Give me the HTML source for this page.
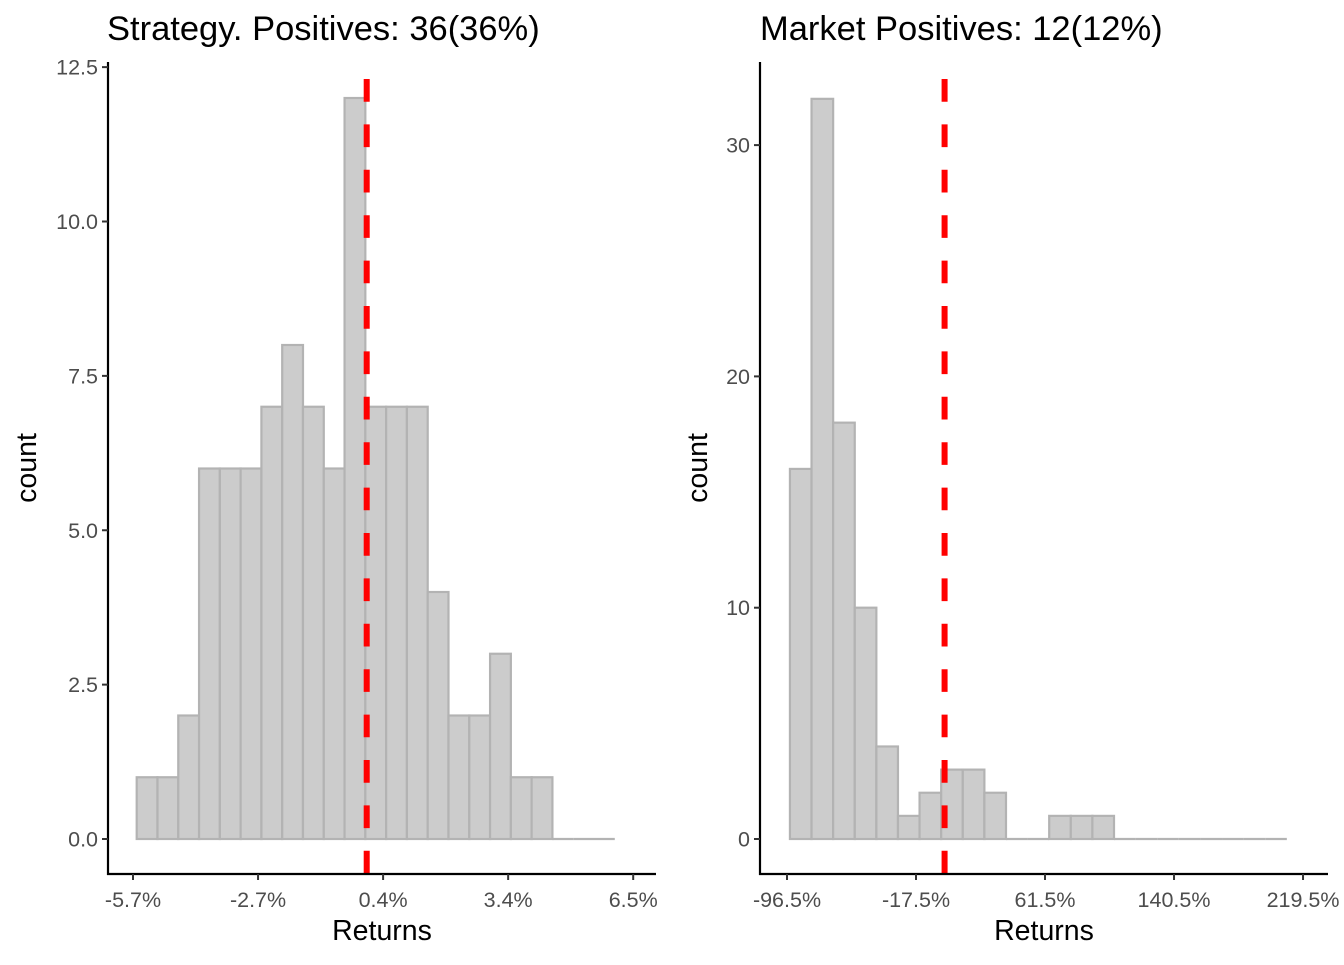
<!DOCTYPE html>
<html><head><meta charset="utf-8">
<style>
body{margin:0;background:#fff;}
svg text{font-family:"Liberation Sans",Arial,sans-serif;}
</style></head>
<body>
<svg id="chart" width="1344" height="960" xmlns="http://www.w3.org/2000/svg">
<rect width="1344" height="960" fill="#fff"/>
</svg>
<script>
// Left panel data
const leftCounts = [1,1,2,6,6,6,7,8,7,6,12,7,7,7,4,2,2,3,1,1,0,0,0];
const leftBinStart = -5.61;
const leftBinWidth = 0.507;
const leftXTicks = [-5.7,-2.65,0.4,3.45,6.5];
const leftXLabels = ["-5.7%","-2.7%","0.4%","3.4%","6.5%"];
const leftYTicks = [0,2.5,5,7.5,10,12.5];
const leftYLabels = ["0.0","2.5","5.0","7.5","10.0","12.5"];
const leftVLine = 0;
// Right panel data
const rightCounts = [16,32,18,10,4,1,2,3,3,2,0,0,1,1,1,0,0,0,0,0,0,0,0];
const rightBinStart = -94.7;
const rightBinWidth = 13.23;
const rightXTicks = [-96.5,-17.5,61.5,140.5,219.5];
const rightXLabels = ["-96.5%","-17.5%","61.5%","140.5%","219.5%"];
const rightYTicks = [0,10,20,30];
const rightYLabels = ["0","10","20","30"];
const rightVLine = 0;

const svg = document.getElementById('chart');
const NS = 'http://www.w3.org/2000/svg';
function mk(tag, attrs, parent){
  const e = document.createElementNS(NS, tag);
  for (const k in attrs) e.setAttribute(k, attrs[k]);
  (parent||svg).appendChild(e);
  return e;
}

function panel(p){
  const g = mk('g', {});
  
  
  const x = v => p.x0 + (v - p.xv0) * p.xs;
  const y = v => p.y0 - v * p.ys;
  // bars
  p.counts.forEach((c, i) => {
    const l = x(p.binStart + i * p.binWidth), r = x(p.binStart + (i + 1) * p.binWidth);
    let el;
    if (c > 0) {
      el = mk('rect', {x:l, y:y(c), width:r-l, height:y(0)-y(c), fill:'#cccccc', stroke:'#b3b3b3', 'stroke-width':2.2}, g);
    } else {
      el = mk('line', {x1:l, x2:r, y1:y(0), y2:y(0), stroke:'#b3b3b3', 'stroke-width':2.2}, g);
    }
    
    
  });
  // vline
  const vl = mk('line', {x1:x(p.vline), x2:x(p.vline), y1:79, y2:876, stroke:'#ff0000', 'stroke-width':6, 'stroke-dasharray':'22.7 22.7'}, g);
  
  
  // axes
  const ya = mk('line', {x1:p.axX, x2:p.axX, y1:62, y2:875, stroke:'#000', 'stroke-width':2.2}, g);
  
  
  const xa = mk('line', {x1:p.axX-1, x2:p.axEnd, y1:874, y2:874, stroke:'#000', 'stroke-width':2.2}, g);
  
  
  p.yTicks.forEach((t, i) => {
    mk('line', {x1:p.axX-6, x2:p.axX, y1:y(t), y2:y(t), stroke:'#333', 'stroke-width':2}, g);
    const tx = mk('text', {x:p.axX-10, y:y(t)+7.5, 'text-anchor':'end', 'font-size':21.5, fill:'#4d4d4d'}, g);
    tx.textContent = p.yLabels[i];
    
    
  });
  p.xTicks.forEach((t, i) => {
    mk('line', {x1:x(t), x2:x(t), y1:874, y2:880, stroke:'#333', 'stroke-width':2}, g);
    const tx = mk('text', {x:x(t), y:907, 'text-anchor':'middle', 'font-size':21.5, fill:'#4d4d4d'}, g);
    tx.textContent = p.xLabels[i];
    
    
  });
  const xt = mk('text', {x:(p.axX+p.axEnd)/2, y:940, 'text-anchor':'middle', 'font-size':28.5, fill:'#000'}, g);
  xt.textContent = 'Returns';
  
  
  const yt = mk('text', {x:0, y:0, 'text-anchor':'middle', 'font-size':28.5, fill:'#000', transform:`translate(${p.ytX},468) rotate(-90)`}, g);
  yt.textContent = 'count';
  
  
  const tt = mk('text', {x:p.titleX, y:40, 'font-size':34.5, fill:'#000'}, g);
  tt.textContent = p.title;
  
  
}

panel({name:'strategy-panel', counts:leftCounts, binStart:leftBinStart, binWidth:leftBinWidth,
  xTicks:leftXTicks, xLabels:leftXLabels, yTicks:leftYTicks, yLabels:leftYLabels, vline:leftVLine,
  x0:133, xv0:-5.7, xs:41.0, y0:839, ys:61.75, axX:108, axEnd:656, ytX:36, titleX:107,
  title:'Strategy. Positives: 36(36%)'});
panel({name:'market-panel', counts:rightCounts, binStart:rightBinStart, binWidth:rightBinWidth,
  xTicks:rightXTicks, xLabels:rightXLabels, yTicks:rightYTicks, yLabels:rightYLabels, vline:rightVLine,
  x0:787, xv0:-96.5, xs:1.633, y0:839, ys:23.13, axX:760, axEnd:1328, ytX:707, titleX:760,
  title:'Market Positives: 12(12%)'});
</script>
</body></html>
